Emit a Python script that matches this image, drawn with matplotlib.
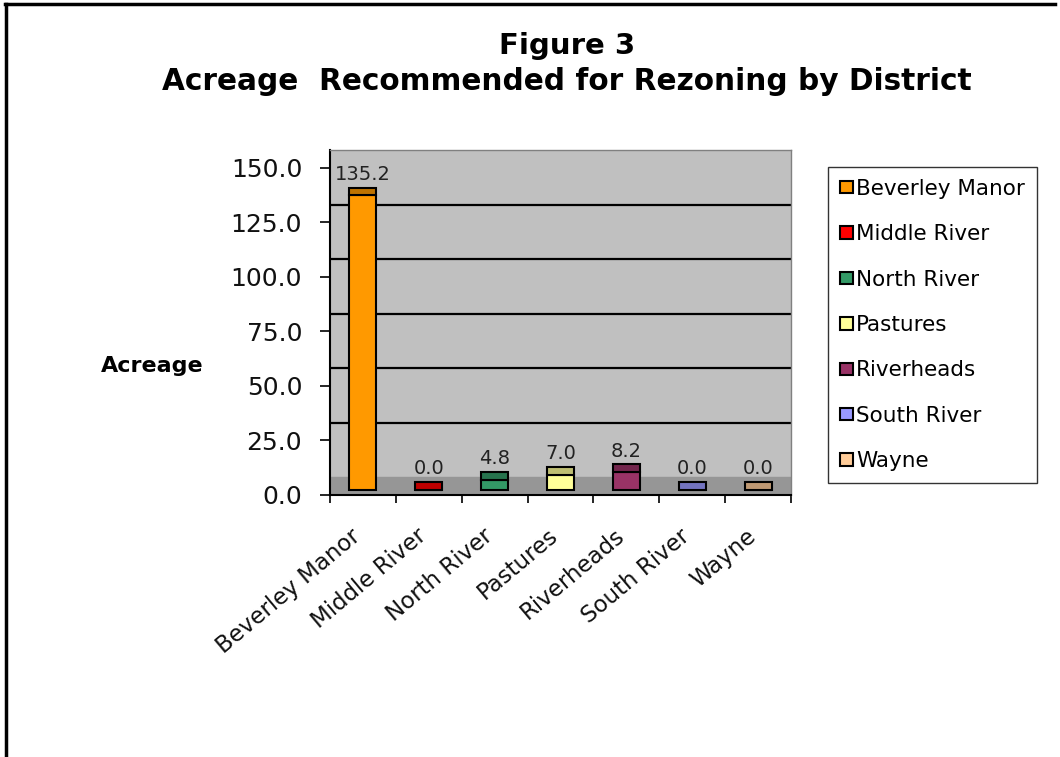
import matplotlib
matplotlib.use("Agg")
import matplotlib.pyplot as plt
import matplotlib.transforms as mtransforms
from matplotlib.lines import Line2D
from matplotlib.patches import Patch
import numpy as np

# ---- data ----
districts = ["Beverley Manor", "Middle River", "North River", "Pastures",
             "Riverheads", "South River", "Wayne"]
acreage = [135.2, 0.0, 4.8, 7.0, 8.2, 0.0, 0.0]
y_ticks = [0, 25, 50, 75, 100, 125, 150]
colors = ["#FF9900", "#FF0000", "#339966", "#FFFF99", "#993366", "#9999FF", "#FFCC99"]
title_line1 = "Figure 3"
title_line2 = "Acreage  Recommended for Rezoning by District"
ylabel_text = "Acreage"

# ---- styling constants ----
W, H = 1060, 757
depth = 8.2        # 3D depth of the wall in data units
front = 2.2        # front face offset inside the floor
cap = 3.6          # visible top face height
bar_w = 0.41

def darker(c, f=0.75):
    r, g, b = matplotlib.colors.to_rgb(c)
    return (r * f, g * f, b * f)

fig = plt.figure(figsize=(W / 100, H / 100), dpi=100)
fig.patch.set_facecolor("white")

ax_left, ax_right = 330 / W, 791 / W
ax_bottom, ax_top = 1 - 495 / H, 1 - 150 / H
ax = fig.add_axes([ax_left, ax_bottom, ax_right - ax_left, ax_top - ax_bottom])
ax.set_facecolor("#C0C0C0")
ax.set_xlim(0, len(districts))
ax.set_ylim(0, 150 + depth)

# floor
ax.axhspan(0, depth, color="#969696", zorder=0.5)
# back wall gridlines (shifted by depth)
for t in y_ticks[1:-1]:
    ax.axhline(t + depth, color="black", lw=1.6, zorder=1)

x = np.arange(len(districts)) + 0.5
vals = np.array(acreage)
ax.bar(x, vals, width=bar_w, bottom=front, color=colors, edgecolor="black",
       linewidth=1.5, zorder=3)
ax.bar(x, np.full(len(x), cap), width=bar_w, bottom=vals + front,
       color=[darker(c) for c in colors], edgecolor="black", linewidth=1.5, zorder=3)

for xi, v in zip(x, vals):
    ax.text(xi, v + front + cap + 1.8, f"{v:.1f}", ha="center", va="bottom",
            fontsize=14, color="#222222", zorder=4)

# axes styling
for s in ["top", "right"]:
    ax.spines[s].set_color("#808080")
    ax.spines[s].set_linewidth(1.0)
ax.spines["left"].set_color("black")
ax.spines["left"].set_linewidth(1.5)
ax.spines["bottom"].set_color("black")
ax.spines["bottom"].set_linewidth(1.5)

ax.set_yticks(y_ticks)
ax.set_yticklabels([f"{t:.1f}" for t in y_ticks], fontsize=18, color="#111111")
ax.tick_params(axis="y", length=7, width=1.2, pad=13)

ax.set_xticks(np.arange(len(districts) + 1))
ax.set_xticklabels([])
ax.tick_params(axis="x", which="major", length=6, width=1.2)

# category labels, rotated, anchored at the end of their baseline
lab_tr = mtransforms.blended_transform_factory(ax.transData, ax.transAxes) + \
    mtransforms.ScaledTranslation(-1 / 100, -43 / 100, fig.dpi_scale_trans)
for xi, name in zip(x, districts):
    ax.text(xi, 0, name, transform=lab_tr, rotation=40, ha="right",
            va="baseline", rotation_mode="anchor", fontsize=16.5,
            color="#111111", clip_on=False)

# title and y label
fig.text(567 / W, 1 - 46 / H, title_line1, ha="center", va="center",
         fontsize=21, fontweight="bold")
fig.text(567 / W, 1 - 81 / H, title_line2,
         ha="center", va="center", fontsize=21.3, fontweight="bold")
fig.text(152 / W, 1 - 366 / H, ylabel_text, ha="center", va="center",
         fontsize=16, fontweight="bold")

# legend
handles = [Patch(facecolor=c, edgecolor="black", linewidth=1.5) for c in colors]
leg = fig.legend(handles, districts, loc="upper left",
                 bbox_to_anchor=(828 / W, 1 - 167 / H), fontsize=15.5,
                 frameon=True, fancybox=False, edgecolor="black",
                 handlelength=0.6, handleheight=0.5, handletextpad=0.15,
                 labelspacing=1.18, borderpad=0.55, borderaxespad=0)
leg.get_frame().set_linewidth(1.0)

# outer frame
fig.add_artist(Line2D([5 / W, 1055 / W], [1 - 4 / H, 1 - 4 / H], color="black",
                      lw=2.5, transform=fig.transFigure))
fig.add_artist(Line2D([6 / W, 6 / W], [1 - 4 / H, 0], color="black",
                      lw=2.5, transform=fig.transFigure))

fig.savefig("out.png", dpi=100)
